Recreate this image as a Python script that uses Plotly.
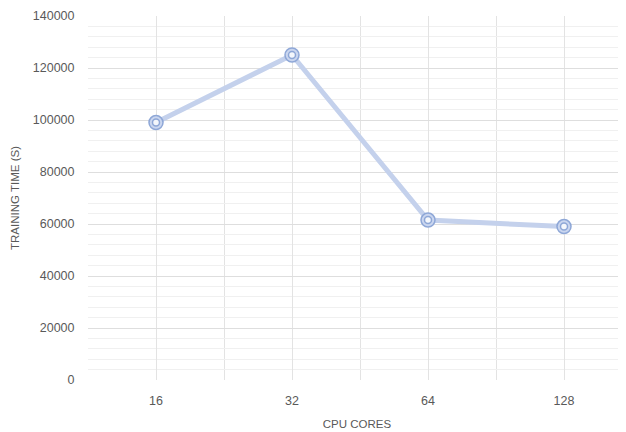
import plotly.graph_objects as go

cpu_cores = ["16", "32", "64", "128"]
training_time = [99000, 125000, 61500, 59000]

x_pos = list(range(len(cpu_cores)))

fig = go.Figure()
fig.add_trace(go.Scatter(
    x=x_pos, y=training_time, mode="lines+markers",
    line=dict(color="#c4d1ec", width=5),
    marker=dict(symbol="circle", size=14, color="#cad6ef",
                line=dict(color="#8ea7d7", width=1.5)),
    showlegend=False, hoverinfo="skip",
))
fig.add_trace(go.Scatter(
    x=x_pos, y=training_time, mode="markers",
    marker=dict(symbol="circle", size=7, color="#f4f7fc",
                line=dict(color="#8ea7d7", width=1.5)),
    showlegend=False,
))

font = "Liberation Sans, Arial, sans-serif"
fig.update_layout(
    width=618, height=424,
    margin=dict(l=80, r=0, t=8, b=52, autoexpand=False),
    paper_bgcolor="white", plot_bgcolor="white",
    font=dict(family=font, color="#595959", size=12),
    xaxis=dict(
        range=[-0.5, -0.5 + 538 / 136],
        tickvals=x_pos, ticktext=cpu_cores,
        showgrid=True, gridcolor="#e3e3e3", gridwidth=1,
        minor=dict(dtick=0.5, tick0=0.5, showgrid=True, gridcolor="#e3e3e3", gridwidth=1),
        ticks="outside", ticklen=9, tickcolor="rgba(0,0,0,0)",
        zeroline=False, showline=False,
        tickfont=dict(size=12.5, color="#595959"),
        title=dict(text="CPU CORES", font=dict(size=11.5, color="#595959"), standoff=12),
    ),
    yaxis=dict(
        range=[0, 140000], dtick=20000, tick0=0, tickformat="d",
        showgrid=True, gridcolor="#dedede", gridwidth=1,
        minor=dict(dtick=4000, showgrid=True, gridcolor="#f0f0f0", gridwidth=1),
        ticks="outside", ticklen=10, tickcolor="rgba(0,0,0,0)",
        zeroline=False, showline=False,
        tickfont=dict(size=12.5, color="#595959"),
        title=dict(text="TRAINING TIME (S)", font=dict(size=11.5, color="#595959"), standoff=10),
    ),
)

fig.write_html("out.html")
